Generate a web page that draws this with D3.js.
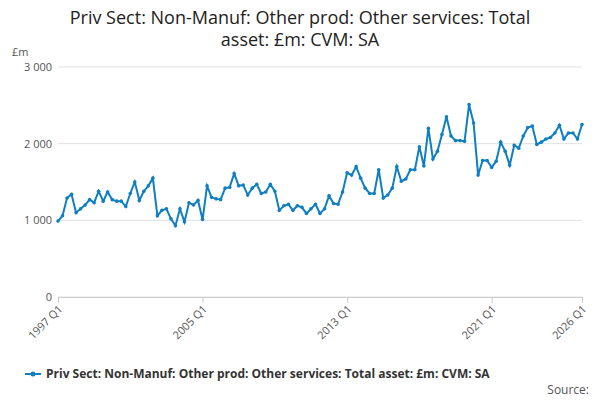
<!DOCTYPE html>
<html><head><meta charset="utf-8">
<script src="https://cdn.jsdelivr.net/npm/d3@7"></script>
<style>body{margin:0;font-family:"Open Sans",sans-serif;background:#fff}</style>
</head><body><svg id="c" width="600" height="400"></svg>
<script>
// quarterly values, 1997 Q1 .. 2026 Q1
const startYear = 1997;
const values = [
  990,1060,1290,1340, 1100,1150,1200,1270, 1230,1380,1250,1370, 1270,1250,1250,1180,
  1350,1500,1260,1380, 1450,1550,1060,1130, 1150,1020,930,1150, 980,1230,1200,1260,
  1010,1450,1300,1280, 1270,1420,1430,1610, 1450,1460,1330,1420, 1470,1350,1370,1470,
  1380,1130,1190,1210, 1130,1190,1170,1090, 1150,1210,1090,1150, 1320,1220,1210,1370,
  1620,1590,1700,1550, 1420,1350,1350,1660, 1290,1330,1420,1700, 1510,1540,1660,1660,
  1960,1710,2200,1800, 1900,2120,2350,2100, 2040,2040,2030,2510, 2270,1590,1780,1780,
  1690,1770,2020,1900, 1720,1980,1940,2100, 2210,2230,1990,2020, 2060,2080,2140,2240,
  2060,2140,2140,2060, 2250
];
const labels = values.map((v, i) => (startYear + Math.floor(i / 4)) + " Q" + (i % 4 + 1));
const tickLabels = ["1997 Q1", "2005 Q1", "2013 Q1", "2021 Q1", "2026 Q1"];
const yTicks = [0, 1000, 2000, 3000];
const seriesName = "Priv Sect: Non-Manuf: Other prod: Other services: Total asset: £m: CVM: SA";

const svg = d3.select("#c");
const x = d3.scalePoint().domain(labels).range([58, 582]);
const y = d3.scaleLinear().domain([0, 3000]).range([297, 67]);
const fmt = d => d3.format(",")(d).replace(",", " ");

svg.append("text").attr("x", 300).attr("y", 24).attr("text-anchor", "middle")
  .attr("font-size", 18).attr("fill", "#222").text("Priv Sect: Non-Manuf: Other prod: Other services: Total");
svg.append("text").attr("x", 300).attr("y", 46).attr("text-anchor", "middle")
  .attr("font-size", 18).attr("fill", "#222").text("asset: £m: CVM: SA");
svg.append("text").attr("x", 12).attr("y", 56).attr("font-size", 11).attr("fill", "#555").text("£m");

// gridlines + y labels
yTicks.forEach(t => {
  svg.append("line").attr("x1", 58).attr("x2", 582).attr("y1", y(t)).attr("y2", y(t))
    .attr("stroke", "#e0e0e0");
  svg.append("text").attr("x", 52).attr("y", y(t) + 4).attr("text-anchor", "end")
    .attr("font-size", 11).attr("fill", "#555").text(fmt(t));
});

// x axis
const xa = svg.append("g").attr("transform", "translate(0,297)")
  .call(d3.axisBottom(x).tickValues(tickLabels).tickSize(6));
xa.select(".domain").attr("stroke", "#ccc");
xa.selectAll(".tick line").attr("stroke", "#ccc");
xa.selectAll("text").attr("font-size", 11).attr("fill", "#555").attr("font-family", "Open Sans")
  .attr("text-anchor", "end").attr("x", 0).attr("y", 0).attr("dy", "0.35em")
  .attr("transform", "translate(2,10) rotate(-45)");

const color = "#0f7fc0";
svg.append("path").datum(values)
  .attr("d", d3.line().x((d, i) => x(labels[i])).y(d => y(d)))
  .attr("fill", "none").attr("stroke", color).attr("stroke-width", 2);
svg.append("g").selectAll("circle").data(values).join("circle")
  .attr("cx", (d, i) => x(labels[i])).attr("cy", d => y(d)).attr("r", 1.8).attr("fill", color);

// legend
svg.append("line").attr("x1", 25).attr("x2", 41).attr("y1", 374).attr("y2", 374)
  .attr("stroke", color).attr("stroke-width", 2);
svg.append("circle").attr("cx", 33).attr("cy", 374).attr("r", 2.5).attr("fill", color);
svg.append("text").attr("x", 46).attr("y", 378).attr("font-size", 12).attr("font-weight", "bold")
  .attr("fill", "#333").text(seriesName);
svg.append("text").attr("x", 589).attr("y", 394).attr("text-anchor", "end")
  .attr("font-size", 12).attr("fill", "#555").text("Source:");
</script></body></html>
